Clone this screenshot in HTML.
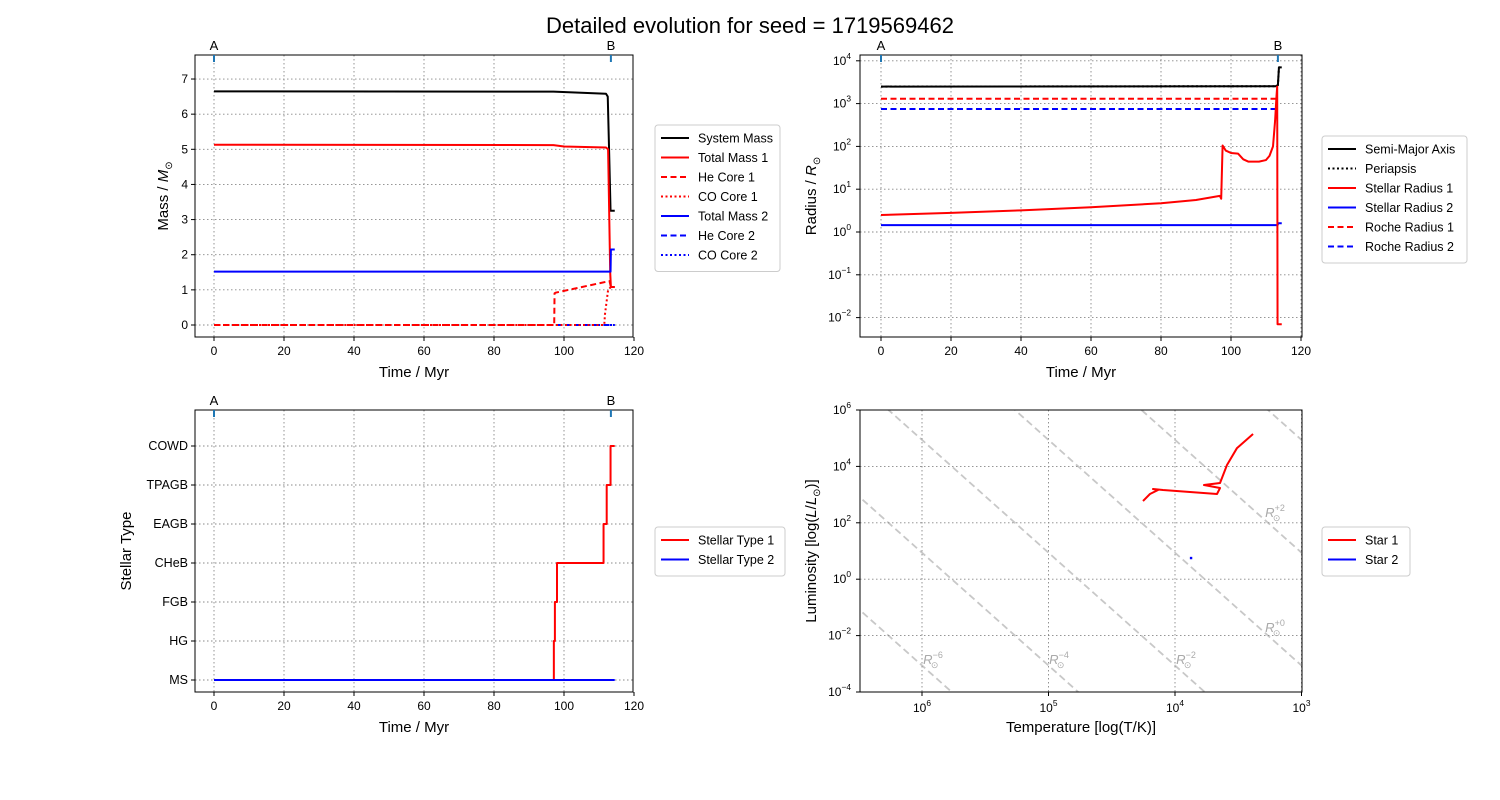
<!DOCTYPE html>
<html><head><meta charset="utf-8"><style>
html,body{margin:0;background:#fff;overflow:hidden;width:1500px;height:800px;}
svg{display:block;}
svg text{font-family:"Liberation Sans",sans-serif;}
</style></head><body>
<svg id="fig" width="1500" height="800" viewBox="0 0 1500 800" xmlns="http://www.w3.org/2000/svg">
<rect width="1500" height="800" fill="#fff"/>
<text x="750" y="33" font-size="22" text-anchor="middle">Detailed evolution for seed = 1719569462</text>
</svg>
<script>
// ---------- data ----------
const sysMassT=[0,97,112,112.5,113,113.3,114.5];
const sysMassV=[6.65,6.64,6.58,6.5,4.5,3.25,3.25];
const mass1T=[0,97,100,112,112.6,113.2,113.4,114.5];
const mass1V=[5.13,5.12,5.08,5.05,5.0,1.5,1.08,1.08];
const heCore1T=[0,97.2,97.3,97.6,113,113.4,114.5];
const heCore1V=[0,0,0.9,0.92,1.25,1.08,1.08];
const coCore1T=[0,111.5,111.7,112.6,113.1,113.4];
const coCore1V=[0,0,0.3,1.0,1.05,1.08];
const mass2T=[0,113.3,113.4,114.5];
const mass2V=[1.52,1.52,2.15,2.15];
const heCore2T=[0,114.5];
const heCore2V=[0,0];
const coCore2T=[0,114.5];
const coCore2V=[0,0];

const semiT=[0,112.8,113.4,113.7,114.5];
const semiV=[2500,2550,2700,7000,7000];
const rad1T=[0,20,40,60,80,90,96.8,97.2,97.6,98.5,100,102,103.5,105,108,110,111,112,112.6,113,113.2,113.3,114.5];
const rad1V=[2.5,2.8,3.2,3.8,4.7,5.6,7.0,6.0,105,80,70,68,50,44,44,48,60,100,400,1500,2500,0.007,0.007];
const rad2T=[0,113.3,113.5,114.5];
const rad2V=[1.45,1.45,1.6,1.6];
const roche1T=[0,113.2];
const roche1V=[1300,1300];
const roche2T=[0,113.2];
const roche2V=[750,750];

const typeLabels=["MS","HG","FGB","CHeB","EAGB","TPAGB","COWD"];
const type1T=[0,97.1,97.1,97.4,97.4,98,98,111.3,111.3,112.2,112.2,113.3,113.3,114.5];
const type1V=[0,0,1,1,2,2,3,3,4,4,5,5,6,6];
const type2T=[0,114.5];
const type2V=[0,0];

const hr1LogT=[4.253,4.198,4.134,4.174,4.095,3.668,3.644,3.771,3.644,3.589,3.51,3.383];
const hr1LogL=[2.773,3.021,3.163,3.199,3.163,3.021,3.234,3.34,3.411,4.05,4.65,5.15];
const hr2LogT=[3.873];
const hr2LogL=[0.75];

const timeTicks=[0,20,40,60,80,100,120];
const massTicks=[0,1,2,3,4,5,6,7];
const radTicks=[-2,-1,0,1,2,3,4];
const lumTicks=[-4,-2,0,2,4,6];
const tempTicks=[6,5,4,3];
const radiusLines=[-8,-6,-4,-2,0,2,4,6,8];
const eventT=[0,113.4];
const eventLabels=["A","B"];

// ---------- helpers ----------
const NS='http://www.w3.org/2000/svg';
const svg=document.getElementById('fig');
function el(tag,attrs,parent){const e=document.createElementNS(NS,tag);for(const k in attrs)e.setAttribute(k,attrs[k]);(parent||svg).appendChild(e);return e;}
function supText(parent,x,y,base,exp,anchor,size,fill){
  const t=el('text',{x:x,y:y,'font-size':size||13,'text-anchor':anchor||'middle',fill:fill||'#000'},parent);
  const a=el('tspan',{},t);a.textContent=base;
  const b=el('tspan',{dy:-6,'font-size':(size||13)*0.7},t);b.textContent=exp;
  return t;
}
function makePanel(name,box,sx,sy){
  const g=el('g',{});
  
  
  const cp=el('clipPath',{id:name+'-clip'},g);
  el('rect',{x:box.x0,y:box.y0,width:box.x1-box.x0,height:box.y1-box.y0},cp);
  const plot=el('g',{'clip-path':'url(#'+name+'-clip)'},g);
  return {g,plot,box,sx,sy};
}
function frame(p){
  const r=el('rect',{x:p.box.x0,y:p.box.y0,width:p.box.x1-p.box.x0,height:p.box.y1-p.box.y0,fill:'none',stroke:'#000','stroke-width':1},p.g);
  
  
}
function gridX(p,vals){vals.forEach(v=>{const x=p.sx(v);
  const l=el('line',{x1:x,x2:x,y1:p.box.y0,y2:p.box.y1,stroke:'#888','stroke-dasharray':'1.5,2.5','stroke-width':0.9},p.plot);
  
  });}
function gridY(p,vals){vals.forEach(v=>{const y=p.sy(v);
  const l=el('line',{x1:p.box.x0,x2:p.box.x1,y1:y,y2:y,stroke:'#888','stroke-dasharray':'1.5,2.5','stroke-width':0.9},p.plot);
  
  });}
function xTicks(p,vals,labelFn){vals.forEach(v=>{const x=p.sx(v);
  el('line',{x1:x,x2:x,y1:p.box.y1,y2:p.box.y1+4,stroke:'#000'},p.g);
  labelFn(x,p.box.y1+18,v);});}
function yTicks(p,vals,labelFn){vals.forEach(v=>{const y=p.sy(v);
  el('line',{x1:p.box.x0-4,x2:p.box.x0,y1:y,y2:y,stroke:'#000'},p.g);
  labelFn(p.box.x0-7,y+4,v);});}
function plainLabel(p,anchor){return (x,y,v)=>{const t=el('text',{x:x,y:y,'font-size':12,'text-anchor':anchor},p.g);t.textContent=v;
  
  };}
function series(p,xs,ys,color,dash,name,width){
  const d=xs.map((v,i)=>(i?'L':'M')+p.sx(v).toFixed(2)+','+p.sy(ys[i]).toFixed(2)).join(' ');
  const a={d:d,fill:'none',stroke:color,'stroke-width':width||2,'stroke-linejoin':'round'};
  if(dash)a['stroke-dasharray']=dash;
  const path=el('path',a,p.plot);
  
  
  return path;
}
function events(p){eventT.forEach((t,i)=>{const x=p.sx(t);
  const m=el('line',{x1:x,x2:x,y1:p.box.y0,y2:p.box.y0+7,stroke:'#1f77b4','stroke-width':2},p.g);
  
  
  const t2=el('text',{x:x,y:p.box.y0-5,'font-size':13,'text-anchor':'middle'},p.g);t2.textContent=eventLabels[i];
  
  });}
function axisLabel(p,text,x,y,rot){
  const t=el('text',{x:x,y:y,'font-size':15,'text-anchor':'middle',transform:rot?'rotate(-90 '+x+' '+y+')':''},p.g);
  t.innerHTML=text;
  return t;
}
function legend(name,x,y,w,entries){
  const g=el('g',{});
  
  
  el('rect',{x:x,y:y,width:w,height:entries.length*19.5+10,fill:'#fff',stroke:'#ccc',rx:3},g);
  entries.forEach((e,i)=>{const yy=y+13+i*19.5;
    const a={x1:x+6,x2:x+34,y1:yy,y2:yy,stroke:e[1],'stroke-width':2};if(e[2])a['stroke-dasharray']=e[2];
    const l=el('line',a,g);
    
    
    const t=el('text',{x:x+43,y:yy+4.5,'font-size':12.5},g);t.textContent=e[0];
    
    });
}
const DASH='6,3.5', DOT='2,2.5';

// ---------- Panel 1: mass ----------
const p1=makePanel('mass-panel',{x0:195,x1:633,y0:55,y1:337},t=>214+3.5*t,m=>325-35.14*m);
gridX(p1,timeTicks);gridY(p1,massTicks);
series(p1,heCore2T,heCore2V,'blue',DASH,'he-core-2-line');
series(p1,coCore2T,coCore2V,'blue',DOT,'co-core-2-line');
series(p1,sysMassT,sysMassV,'black',null,'system-mass-line');
series(p1,mass1T,mass1V,'red',null,'total-mass-1-line');
series(p1,heCore1T,heCore1V,'red',DASH,'he-core-1-line');
series(p1,coCore1T,coCore1V,'red',DOT,'co-core-1-line');
series(p1,mass2T,mass2V,'blue',null,'total-mass-2-line');
frame(p1);xTicks(p1,timeTicks,plainLabel(p1,'middle'));yTicks(p1,massTicks,plainLabel(p1,'end'));events(p1);
{const t=axisLabel(p1,'Time / Myr',414,377);}
{const t=axisLabel(p1,'Mass / <tspan font-style="italic">M</tspan><tspan font-size="10" dy="4">⊙</tspan>',168,196,true);}
legend('mass-legend',655,125,125,[["System Mass","black"],["Total Mass 1","red"],["He Core 1","red",DASH],["CO Core 1","red",DOT],["Total Mass 2","blue"],["He Core 2","blue",DASH],["CO Core 2","blue",DOT]]);

// ---------- Panel 2: radius ----------
const p2=makePanel('radius-panel',{x0:860,x1:1302,y0:55,y1:337},t=>881+3.5*t,r=>232-42.8*Math.log10(r));
gridX(p2,timeTicks);gridY(p2,radTicks.map(e=>Math.pow(10,e)));
series(p2,roche1T,roche1V,'red',DASH,'roche-radius-1-line');
series(p2,roche2T,roche2V,'blue',DASH,'roche-radius-2-line');
series(p2,semiT,semiV,'black',DOT,'periapsis-line');
series(p2,semiT,semiV,'black',null,'semi-major-axis-line');
series(p2,rad2T,rad2V,'blue',null,'stellar-radius-2-line');
series(p2,rad1T,rad1V,'red',null,'stellar-radius-1-line');
frame(p2);xTicks(p2,timeTicks,plainLabel(p2,'middle'));
radTicks.forEach(e=>{const y=p2.sy(Math.pow(10,e));el('line',{x1:856,x2:860,y1:y,y2:y,stroke:'#000'},p2.g);
  const t=supText(p2.g,851,y+4,'10',String(e).replace('-','−'),'end',12);
  
  });
events(p2);
{const t=axisLabel(p2,'Time / Myr',1081,377);}
{const t=axisLabel(p2,'Radius / <tspan font-style="italic">R</tspan><tspan font-size="10" dy="4">⊙</tspan>',816,196,true);}
legend('radius-legend',1322,136,145,[["Semi-Major Axis","black"],["Periapsis","black",DOT],["Stellar Radius 1","red"],["Stellar Radius 2","blue"],["Roche Radius 1","red",DASH],["Roche Radius 2","blue",DASH]]);

// ---------- Panel 3: stellar type ----------
const p3=makePanel('type-panel',{x0:195,x1:633,y0:410,y1:692},t=>214+3.5*t,v=>680-39*v);
gridX(p3,timeTicks);gridY(p3,typeLabels.map((_,i)=>i));
series(p3,type1T,type1V,'red',null,'stellar-type-1-line');
series(p3,type2T,type2V,'blue',null,'stellar-type-2-line');
frame(p3);xTicks(p3,timeTicks,plainLabel(p3,'middle'));
yTicks(p3,typeLabels.map((_,i)=>i),(x,y,v)=>{const t=el('text',{x:x,y:y,'font-size':12.5,'text-anchor':'end'},p3.g);t.textContent=typeLabels[v];
  
  });
events(p3);
{const t=axisLabel(p3,'Time / Myr',414,732);}
{const t=axisLabel(p3,'Stellar Type',131,551,true);}
legend('type-legend',655,527,130,[["Stellar Type 1","red"],["Stellar Type 2","blue"]]);

// ---------- Panel 4: HR diagram ----------
const p4=makePanel('hr-panel',{x0:860,x1:1302,y0:410,y1:692},lt=>922+126.5*(6-lt),ll=>410+28.2*(6-ll));
radiusLines.forEach(r=>{const t0=6.6,t1=2.9;
  const l=el('line',{x1:p4.sx(t0),y1:p4.sy(2*r+4*(t0-3.765)),x2:p4.sx(t1),y2:p4.sy(2*r+4*(t1-3.765)),stroke:'#c8c8c8','stroke-width':1.8,'stroke-dasharray':'7,4'},p4.plot);
  
  });
gridX(p4,tempTicks);gridY(p4,lumTicks);
[[-6,933,664],[-4,1059,664],[-2,1186,664],[0,1275,632],[2,1275,517]].forEach(a=>{
  const t=el('text',{x:a[1],y:a[2],'font-size':13,'text-anchor':'middle',fill:'#aaa','font-style':'italic'},p4.g);
  const s1=el('tspan',{},t);s1.textContent='R';
  const s2=el('tspan',{dy:-6,'font-size':9,'font-style':'normal'},t);s2.textContent=(a[0]>=0?'+':'−')+Math.abs(a[0]);
  const s3=el('tspan',{dx:-12,dy:10,'font-size':9,'font-style':'normal'},t);s3.textContent='⊙';
  
  });
series(p4,hr1LogT,hr1LogL,'red',null,'star-1-track');
hr2LogT.forEach((v,i)=>{const c=el('rect',{x:p4.sx(v)-1.2,y:p4.sy(hr2LogL[i])-1.2,width:2.4,height:2.4,fill:'blue'},p4.plot);
  
  });
frame(p4);
tempTicks.forEach(v=>{const x=p4.sx(v);el('line',{x1:x,x2:x,y1:692,y2:696,stroke:'#000'},p4.g);
  const t=supText(p4.g,x,712,'10',String(v),'middle',12);
  
  });
lumTicks.forEach(v=>{const y=p4.sy(v);el('line',{x1:856,x2:860,y1:y,y2:y,stroke:'#000'},p4.g);
  const t=supText(p4.g,851,y+4,'10',String(v).replace('-','−'),'end',12);
  
  });
{const t=axisLabel(p4,'Temperature [log(T/K)]',1081,732);}
{const t=axisLabel(p4,'Luminosity [log(<tspan font-style="italic">L</tspan>/<tspan font-style="italic">L</tspan><tspan font-size="10" dy="4">⊙</tspan><tspan dy="-4">)]</tspan>',816,551,true);}
legend('hr-legend',1322,527,88,[["Star 1","red"],["Star 2","blue"]]);
</script>
</body></html>
